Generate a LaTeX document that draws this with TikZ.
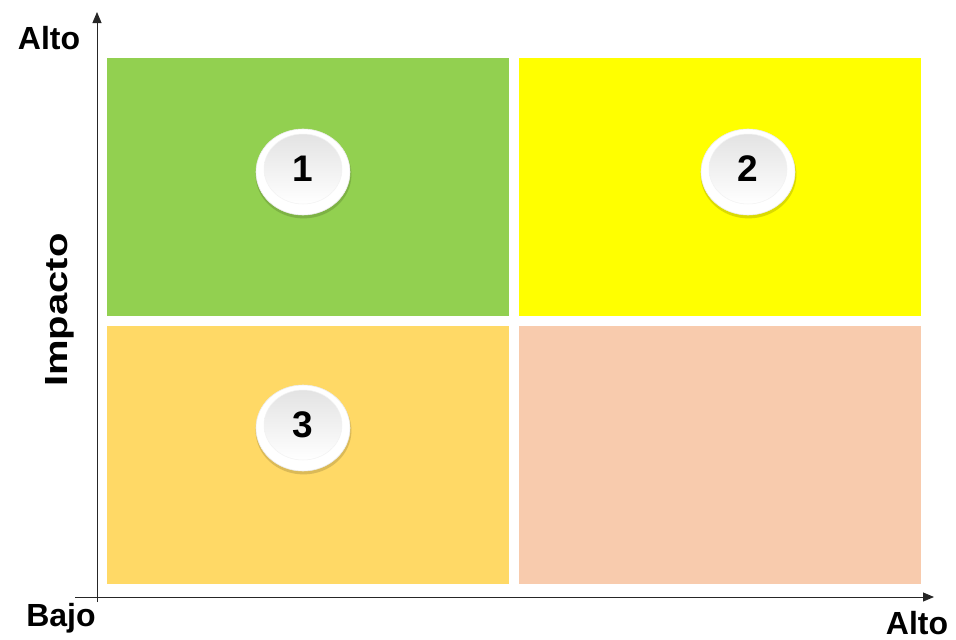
\documentclass[tikz,border=0pt]{standalone}
\usepackage{fontspec}
\setmainfont{Liberation Sans}
\usetikzlibrary{shapes.geometric,shadows,arrows.meta}
\definecolor{qgreen}{HTML}{92D050}
\definecolor{qyellow}{HTML}{FFFF00}
\definecolor{qorange}{HTML}{FFD966}
\definecolor{qpeach}{HTML}{F8CBAD}
\tikzset{
  quad/.style={draw=none, minimum width=402pt, minimum height=258pt, anchor=north west, inner sep=0pt, outer sep=0pt},
  btnout/.style={ellipse, fill=white, draw=gray!15, line width=0.6pt, minimum width=94pt, minimum height=86pt, inner sep=0pt,
    drop shadow={shadow xshift=0.5pt, shadow yshift=-2.5pt, shadow scale=1.02, opacity=0.14, fill=black}},
  btnin/.style={ellipse, top color=gray!22, bottom color=white, draw=gray!10, line width=0.5pt, minimum width=78pt, minimum height=70pt, inner sep=0pt,
    font=\fontsize{37}{37}\bfseries\selectfont, text=black},
  lbl/.style={font=\fontsize{32}{32}\bfseries\selectfont, inner sep=0pt},
  axis/.style={line width=0.9pt, draw=black!85, -{Triangle[length=11pt,width=9pt]}}
}
\begin{document}
\begin{tikzpicture}[x=1pt,y=-1pt]
\useasboundingbox (0,0) rectangle (956,640);
% quadrants
\node[quad, fill=qgreen]  (q1) at (107,58) {};
\node[quad, fill=qyellow] (q2) at (519,58) {};
\node[quad, fill=qorange] (q3) at (107,326) {};
\node[quad, fill=qpeach]  (q4) at (519,326) {};
% axes
\coordinate (yb) at (97,602);
\coordinate (yt) at (97,12);
\coordinate (xa) at (75,597);
\coordinate (xb) at (934,597);
\draw[axis] (yb) -- (yt);
\draw[axis] (xa) -- (xb);
% buttons
\node[btnout] (b1o) at (303,172) {};
\node[btnin]  (b1)  at (303,169) {1};
\node[btnout] (b2o) at (748,172) {};
\node[btnin]  (b2)  at (748,169) {2};
\node[btnout] (b3o) at (303,428) {};
\node[btnin]  (b3)  at (303,425) {3};
% labels
\node[lbl, anchor=base] (lt) at (49,49) {Alto};
\node[lbl, anchor=base] (lb) at (61,626) {Bajo};
\node[lbl, anchor=base] (lr) at (917,634) {Alto};
\node[lbl, anchor=base, rotate=90] (li) at (67,310) {\scalebox{1.25}[1]{Impacto}};
\end{tikzpicture}
\end{document}
